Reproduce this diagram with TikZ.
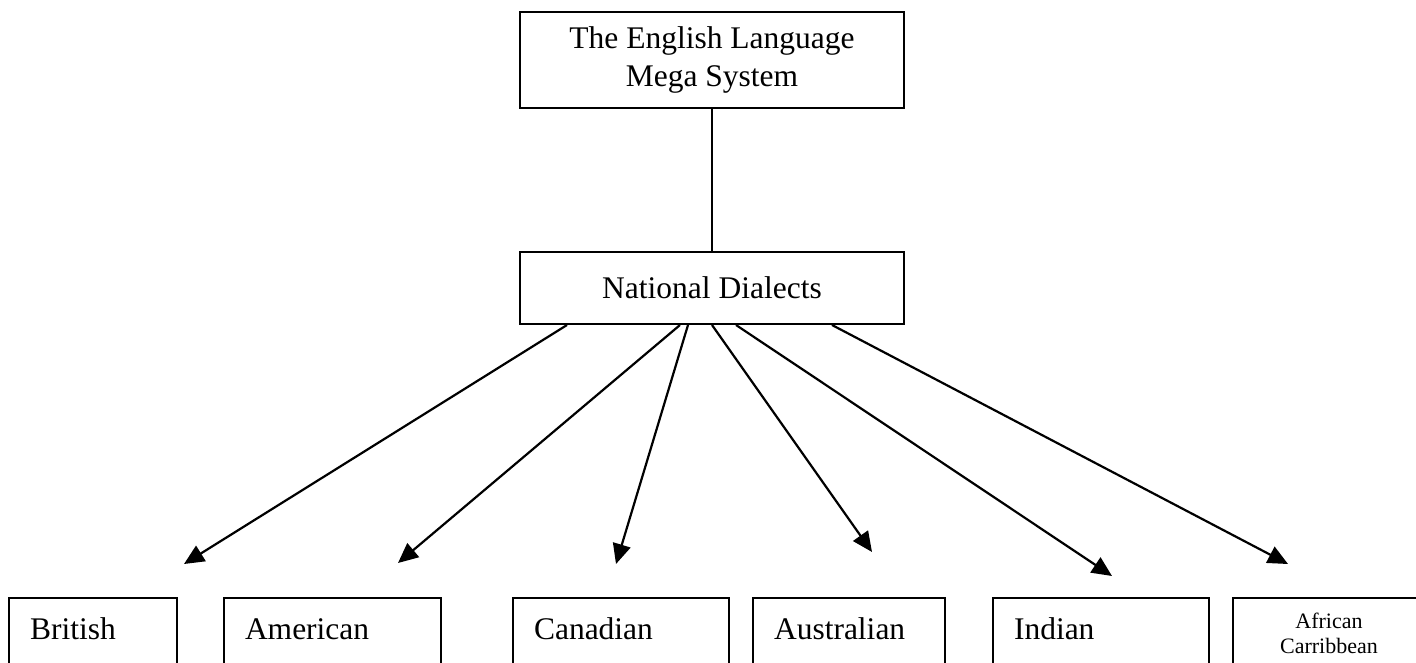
\documentclass[tikz,border=0pt]{standalone}
\usepackage{fontspec}
\setmainfont{Liberation Serif}
\usetikzlibrary{arrows.meta}
\begin{document}
\begin{tikzpicture}[x=1pt,y=-1pt,
  box/.style={draw,line width=2pt,inner sep=0pt,font=\fontsize{31.5}{38}\selectfont},
  topbox/.style={box,minimum width=384pt,align=center},
  leaf/.style={box,anchor=north west,align=left,inner xsep=21pt,text height=41pt,text depth=80pt},
  arr/.style={line width=2.2pt,-{Triangle[length=20pt,width=18pt]}}]
\useasboundingbox (0,0) rectangle (1416,663);
\clip (0,0) rectangle (1416,663);
\node[topbox,minimum height=96pt] (eng) at (712,60) {The English Language\\Mega System};
\node[topbox,minimum height=72pt] (nd) at (712,288) {National Dialects};
\draw[line width=2pt] (eng.south) -- (nd.north);
\node[leaf,text width=126pt] (brit) at (8,597) {British};
\node[leaf,text width=175pt] (amer) at (223,597) {American};
\node[leaf,text width=174pt] (cana) at (512,597) {Canadian};
\node[leaf,text width=150pt] (aus) at (752,597) {Australian};
\node[leaf,text width=174pt] (ind) at (992,597) {Indian};
\node[box,anchor=north west,minimum width=192pt,text height=30pt,text depth=80pt,font=\fontsize{22}{25}\selectfont] (afr) at (1232,597) {\begin{tabular}[t]{@{}c@{}}African\\Carribbean\end{tabular}};
\coordinate (t1) at (184,564);
\coordinate (t2) at (398,563);
\coordinate (t3) at (616,564);
\coordinate (t4) at (872,552);
\coordinate (t5) at (1112,576);
\coordinate (t6) at (1288,564);
\draw[arr] ([xshift=-145pt]nd.south) -- (t1);
\draw[arr] ([xshift=-32pt]nd.south) -- (t2);
\draw[arr] ([xshift=-24pt]nd.south) -- (t3);
\draw[arr] (nd.south) -- (t4);
\draw[arr] ([xshift=24pt]nd.south) -- (t5);
\draw[arr] ([xshift=120pt]nd.south) -- (t6);
\end{tikzpicture}
\end{document}
